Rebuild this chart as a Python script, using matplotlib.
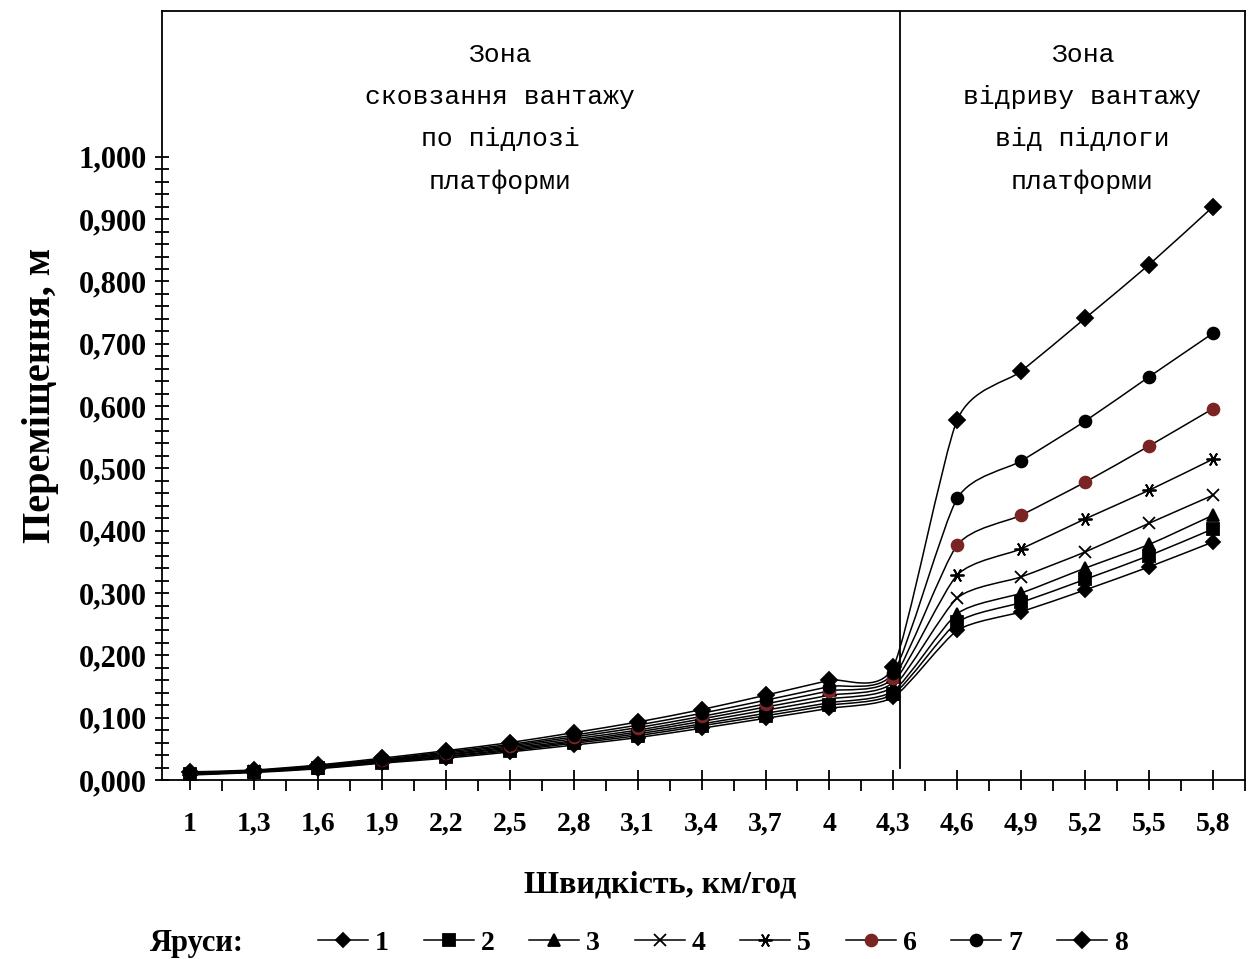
import matplotlib
matplotlib.use("Agg")
import matplotlib.pyplot as plt
from matplotlib.ticker import FixedLocator
from matplotlib.path import Path
from matplotlib.patches import PathPatch
from matplotlib.lines import Line2D

# speeds, km/h (category axis)
speeds = ["1", "1,3", "1,6", "1,9", "2,2", "2,5", "2,8", "3,1", "3,4", "3,7", "4", "4,3",
          "4,6", "4,9", "5,2", "5,5", "5,8"]

# displacement, m, per tier (ярус)
tier1 = [0.008, 0.012, 0.018, 0.027, 0.035, 0.045, 0.056, 0.068, 0.083, 0.099, 0.115, 0.133,
         0.240, 0.270, 0.305, 0.342, 0.382]
tier2 = [0.009, 0.013, 0.019, 0.028, 0.037, 0.047, 0.059, 0.071, 0.087, 0.103, 0.120, 0.138,
         0.253, 0.285, 0.322, 0.360, 0.403]
tier3 = [0.009, 0.013, 0.020, 0.029, 0.038, 0.049, 0.061, 0.074, 0.090, 0.107, 0.124, 0.143,
         0.267, 0.300, 0.340, 0.378, 0.425]
tier4 = [0.010, 0.014, 0.020, 0.030, 0.040, 0.051, 0.063, 0.077, 0.094, 0.112, 0.130, 0.150,
         0.292, 0.326, 0.366, 0.412, 0.457]
tier5 = [0.010, 0.014, 0.021, 0.031, 0.041, 0.053, 0.066, 0.080, 0.098, 0.117, 0.136, 0.157,
         0.329, 0.371, 0.419, 0.465, 0.515]
tier6 = [0.011, 0.015, 0.022, 0.032, 0.043, 0.055, 0.069, 0.084, 0.102, 0.122, 0.143, 0.164,
         0.377, 0.425, 0.478, 0.536, 0.596]
tier7 = [0.012, 0.015, 0.023, 0.033, 0.045, 0.057, 0.072, 0.088, 0.107, 0.128, 0.150, 0.172,
         0.452, 0.512, 0.576, 0.647, 0.717]
tier8 = [0.013, 0.016, 0.024, 0.035, 0.047, 0.060, 0.076, 0.093, 0.113, 0.136, 0.160, 0.182,
         0.578, 0.656, 0.741, 0.827, 0.920]

tiers = [tier1, tier2, tier3, tier4, tier5, tier6, tier7, tier8]
tier_names = ["1", "2", "3", "4", "5", "6", "7", "8"]

serif = "Liberation Serif"
mono = "Liberation Mono"

# marker styles per tier
markers = ["D", "s", "^", "x", (6, 2, 90), "o", "o", "D"]
msizes = [7, 8, 8.5, 8, 10, 8.5, 8.5, 8.5]
colors = ["black"] * 8
colors[5] = "#7a2424"

TENSION = 0.11


# smoothed line like Excel's "smoothed line" option (bezier through the points)
def smooth_path(xs, ys):
    verts = [(xs[0], ys[0])]
    codes = [Path.MOVETO]
    n = len(xs)
    for i in range(n - 1):
        x0, y0 = (xs[i - 1], ys[i - 1]) if i > 0 else (xs[i], ys[i])
        x3, y3 = (xs[i + 2], ys[i + 2]) if i + 2 < n else (xs[i + 1], ys[i + 1])
        c1 = (xs[i] + (xs[i + 1] - x0) * TENSION, ys[i] + (ys[i + 1] - y0) * TENSION)
        c2 = (xs[i + 1] - (x3 - xs[i]) * TENSION, ys[i + 1] - (y3 - ys[i]) * TENSION)
        verts += [c1, c2, (xs[i + 1], ys[i + 1])]
        codes += [Path.CURVE4] * 3
    return Path(verts, codes)


fig = plt.figure(figsize=(12.5, 9.59), dpi=100)
ax = fig.add_axes([162 / 1250, 1 - 780 / 959, (1245 - 162) / 1250, (780 - 11) / 959])

x = list(range(len(speeds)))
handles = []
for i in range(len(tiers)):
    ax.add_patch(PathPatch(smooth_path(x, tiers[i]), facecolor="none", edgecolor="black", lw=1.1))
    ax.plot(x, tiers[i], ls="none", marker=markers[i], markersize=msizes[i],
            markerfacecolor=colors[i], markeredgecolor=colors[i], markeredgewidth=1.3)
    handles.append(Line2D([], [], color="black", lw=1.1, marker=markers[i], markersize=msizes[i],
                          markerfacecolor=colors[i], markeredgecolor=colors[i], markeredgewidth=1.3))

# zone border
ax.axvline(11.1, ymin=0.015, color="black", lw=1.3)

ax.set_xlim(-0.44, 16.5)
ax.set_ylim(0, 1.234)

for s in ax.spines.values():
    s.set_linewidth(1.3)

# y axis: ticks only up to 1,000
ax.yaxis.set_major_locator(FixedLocator([i / 10 for i in range(11)]))
ax.yaxis.set_minor_locator(FixedLocator([i / 50 for i in range(51)]))
ax.set_yticklabels([("%.3f" % (i / 10)).replace(".", ",") for i in range(11)])
ax.tick_params(axis="y", which="both", direction="inout", length=10, width=1.3, pad=6)

ax.set_xticks(x)
ax.set_xticklabels(speeds)
ax.xaxis.set_minor_locator(FixedLocator([i + 0.5 for i in range(-1, 17)]))
ax.tick_params(axis="x", which="major", direction="inout", length=14, width=1.3, pad=16)
ax.tick_params(axis="x", which="minor", direction="out", length=8, width=1.3)

for lbl in ax.get_xticklabels():
    lbl.set_fontfamily(serif)
    lbl.set_fontweight("bold")
    lbl.set_fontsize(20)
for lbl in ax.get_yticklabels():
    lbl.set_fontfamily(serif)
    lbl.set_fontweight("bold")
    lbl.set_fontsize(22)

ax.set_xlabel("Швидкість, км/год", fontfamily=serif, fontweight="bold", fontsize=23)
ax.xaxis.set_label_coords((660 - 162) / 1083, -0.118)
ax.set_ylabel("Переміщення, м", fontfamily=serif, fontweight="bold", fontsize=29, labelpad=14)

ax.text(0.312, 0.958, "Зона\nсковзання вантажу\nпо підлозі\nплатформи", transform=ax.transAxes,
        ha="center", va="top", fontfamily=mono, fontsize=19, linespacing=1.95, multialignment="center")
ax.text(0.850, 0.958, "Зона\nвідриву вантажу\nвід підлоги\nплатформи", transform=ax.transAxes,
        ha="center", va="top", fontfamily=mono, fontsize=19, linespacing=1.95, multialignment="center")

fig.text(150 / 1250, 1 - 943 / 959, "Яруси:", fontfamily=serif, fontweight="bold", fontsize=22,
         va="center", ha="left")
leg = fig.legend(handles, tier_names, loc="center left", bbox_to_anchor=(318 / 1250, 1 - 943 / 959),
                 ncol=8, frameon=False, handlelength=1.8, handletextpad=0.25, columnspacing=1.25,
                 borderaxespad=0, borderpad=0, prop={"family": serif, "weight": "bold", "size": 20})

fig.savefig("out.png", dpi=100, facecolor="white")
